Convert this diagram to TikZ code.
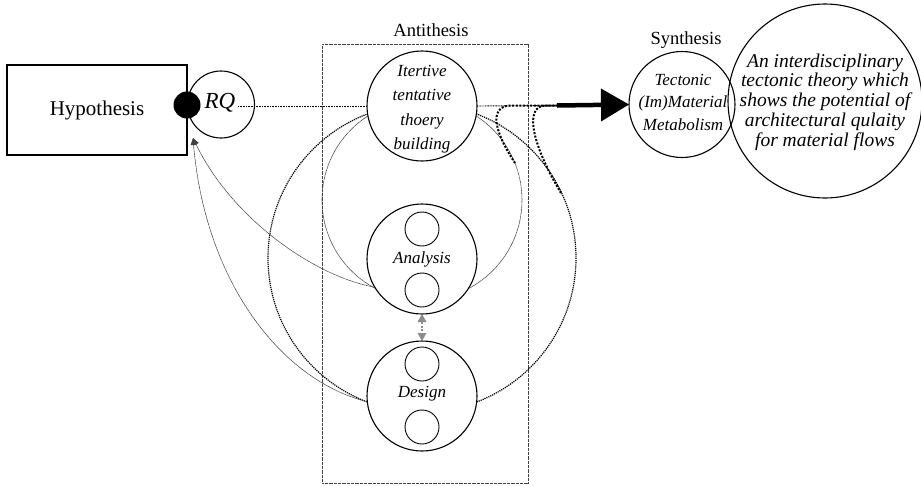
\documentclass[tikz,border=0pt]{standalone}
\usepackage{fontspec}
\setmainfont{Liberation Serif}
\usetikzlibrary{arrows.meta}
\begin{document}
\begin{tikzpicture}[x=1pt,y=-1pt,
  stage/.style={circle, draw, line width=1.1pt, fill=white, inner sep=0pt, outer sep=0pt, minimum size=110pt},
  cell/.style={circle, draw, line width=0.9pt, fill=white, inner sep=0pt, outer sep=0pt, minimum size=34pt},
  ital/.style={font=\fontsize{17}{24.5}\selectfont\itshape, align=center, inner sep=0pt},
  plain/.style={font=\fontsize{18.5}{22}\selectfont, inner sep=0pt},
  finedot/.style={line width=0.9pt, dash pattern=on 0.9pt off 0.7pt},
  thinloop/.style={line width=0.6pt, black!75, dash pattern=on 0.7pt off 0.4pt},
  heavyloop/.style={line width=1.2pt, dash pattern=on 1.2pt off 0.9pt},
  hookline/.style={line width=2pt, dash pattern=on 2pt off 1.6pt},
  backtip/.style={-{Triangle[length=7pt,width=6pt]}},
  antibox/.style={draw, black!75, line width=0.8pt, dash pattern=on 0.8pt off 0.5pt, inner sep=0pt, outer sep=0pt}
]
\useasboundingbox (0,0) rectangle (921,485);

% Antithesis frame and its caption
\node[antibox, minimum width=206pt, minimum height=439pt] (anti) at (425,263.5) {};
\node[plain] (antit) at (431,30) {Antithesis};

% feedback loops running behind the stage circles
\draw[thinloop] (422,200) circle[radius=100];
\draw[heavyloop] (422,258) circle[radius=154];

% hypothesis and research question
\node[draw, line width=1.3pt, fill=white, minimum width=180pt, minimum height=90pt, inner sep=0pt,
      font=\fontsize{21}{24}\selectfont] (hyp) at (97,110) {Hypothesis};
\node[circle, draw, line width=1.1pt, fill=white, minimum size=67pt, inner sep=0pt, outer sep=0pt] (rq) at (221,104.5) {};
\node[font=\fontsize{23}{26}\selectfont\itshape, inner sep=2.5pt] (rqt) at (220,103) {RQ};
\node[circle, fill=black, minimum size=27pt, inner sep=0pt] (dot) at (187,105) {};
\coordinate (hin) at (193,138);

% stages of the antithesis
\node[stage] (itb) at (422,106) {};
\node[ital] (itbt) at (422,109) {Itertive\\tentative\\thoery\\building};

\node[stage] (ana) at (422,259) {};
\node[cell] (ana1) at (422,229) {};
\node[cell] (ana2) at (422,290) {};
\node[ital] (anat) at (422,259) {Analysis};

\node[stage] (des) at (422,396) {};
\node[cell] (des1) at (422,364) {};
\node[cell] (des2) at (422,427) {};
\node[ital] (dest) at (422,394) {Design};

% synthesis
\node[circle, draw, line width=1.1pt, inner sep=0pt, outer sep=0pt, minimum size=106pt] (syn) at (682,104.5) {};
\node[plain] (synt) at (686,40) {Synthesis};
\node[ital, font=\fontsize{17}{22.5}\selectfont\itshape] (synl) at (683,102) {Tectonic\\(Im)Material\\Metabolism};
\node[circle, draw, line width=1.1pt, inner sep=0pt, outer sep=0pt, minimum size=194pt] (res) at (825,101) {};
\node[ital, font=\fontsize{19.5}{19.8}\selectfont\itshape] (rest) at (825,102)
  {An interdisciplinary\\tectonic theory which\\shows the potential of\\architectural qulaity\\for material flows};

% connectors
\coordinate (jn) at (557,105.5);
\draw[finedot] (rqt.east |- itb.west) -- (itb.west);
\draw[finedot] (itb.east) -- (jn);
\draw[hookline] (515,163) .. controls (495,133) and (488,107) .. (510,105.5) -- (jn);
\draw[hookline] (561,193) .. controls (535,150) and (522,107) .. (545,105.5) -- (jn);
\draw[line width=4.5pt, -{Triangle[length=28pt,width=33pt,line width=0pt]}] (jn) -- (syn.west);

\draw[thinloop, backtip] (ana.211) .. controls (310,275) and (230,215) .. (hin);
\draw[thinloop, backtip] (des.186) .. controls (280,380) and (205,280) .. (hin);

\draw[black!45, line width=1.5pt, dash pattern=on 2pt off 1.5pt,
      {Triangle[length=8pt,width=9pt,line width=0pt]}-{Triangle[length=8pt,width=9pt,line width=0pt]}] (ana.south) -- (des.north);
\end{tikzpicture}
\end{document}
